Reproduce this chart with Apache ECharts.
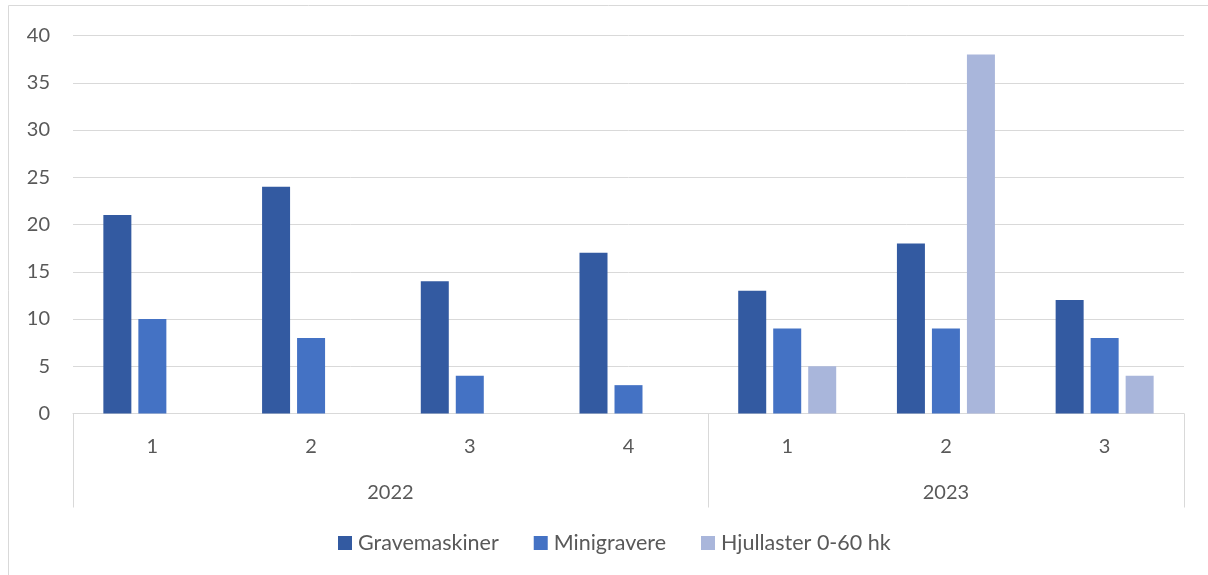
<!DOCTYPE html>
<html>
<head>
<meta charset="utf-8">
<script src="https://cdn.jsdelivr.net/npm/echarts@6/dist/echarts.min.js"></script>
<style>
  html, body { margin: 0; padding: 0; background: #fff; }
  #chart { width: 1208px; height: 575px; }
</style>
</head>
<body>
<div id="chart"></div>
<script>
// quarters per year, multi-level axis like excel
var quarters = ['1', '2', '3', '4', '1', '2', '3'];
var years = ['2022', '2023'];
var yearSpan = [4, 3];

var seriesNames = ['Gravemaskiner', 'Minigravere', 'Hjullaster 0-60 hk'];
var gravemaskiner = [21, 24, 14, 17, 13, 18, 12];
var minigravere = [10, 8, 4, 3, 9, 9, 8];
var hjullaster = [null, null, null, null, 5, 38, 4];
var colors = ['#335AA1', '#4472C4', '#A9B6DB'];

var font = 'Lato, "Open Sans", sans-serif';
var txt = '#595959';

// year label positions + separator positions on a 0..7 scale
var yearPos = {};
var yearVals = [];
var sepVals = [0];
var acc = 0;
for (var i = 0; i < years.length; i++) {
    yearPos[acc + yearSpan[i] / 2] = years[i];
    yearVals.push(acc + yearSpan[i] / 2);
    acc += yearSpan[i];
    sepVals.push(acc);
}

var myChart = echarts.init(document.getElementById('chart'));
var option = {
    animation: false,
    color: colors,
    textStyle: { fontFamily: font },
    graphic: [{
        type: 'rect',
        shape: { x: 8.5, y: 5.5, width: 1300, height: 700 },
        style: { fill: 'none', stroke: '#d9d9d9', lineWidth: 1 },
        silent: true
    }],
    grid: { left: 73, right: 24, top: 35.5, bottom: 161.5 },
    legend: {
        data: seriesNames,
        top: 527,
        left: 333,
        itemWidth: 14,
        itemHeight: 14,
        itemGap: 35,
        icon: 'rect',
        textStyle: { color: txt, fontSize: 21.5, fontFamily: font, padding: [0, 0, 0, 1] }
    },
    xAxis: [{
        type: 'category',
        data: quarters,
        axisLine: { lineStyle: { color: '#d9d9d9', width: 1 } },
        axisTick: { show: false },
        axisLabel: { color: txt, fontSize: 20, margin: 23, fontFamily: font }
    }, {
        type: 'value',
        position: 'bottom',
        min: 0,
        max: 7,
        axisLine: { show: false },
        axisTick: {
            show: true,
            customValues: sepVals,
            length: 94,
            lineStyle: { color: '#d9d9d9', width: 1 }
        },
        splitLine: { show: false },
        axisLabel: {
            color: txt, fontSize: 20, margin: 69, fontFamily: font,
            customValues: yearVals,
            formatter: function (v) { return yearPos[v] || ''; }
        }
    }],
    yAxis: {
        type: 'value',
        min: 0,
        max: 40,
        interval: 5,
        axisLine: { show: false },
        axisTick: { show: false },
        splitLine: { lineStyle: { color: '#d9d9d9', width: 1 } },
        axisLabel: { color: txt, fontSize: 20, margin: 23, fontFamily: font }
    },
    series: [{
        name: seriesNames[0], type: 'bar', data: gravemaskiner,
        barWidth: 28, barGap: '25%'
    }, {
        name: seriesNames[1], type: 'bar', data: minigravere,
        barWidth: 28, barGap: '25%'
    }, {
        name: seriesNames[2], type: 'bar', data: hjullaster,
        barWidth: 28, barGap: '25%'
    }]
};
myChart.setOption(option);
</script>
</body>
</html>
